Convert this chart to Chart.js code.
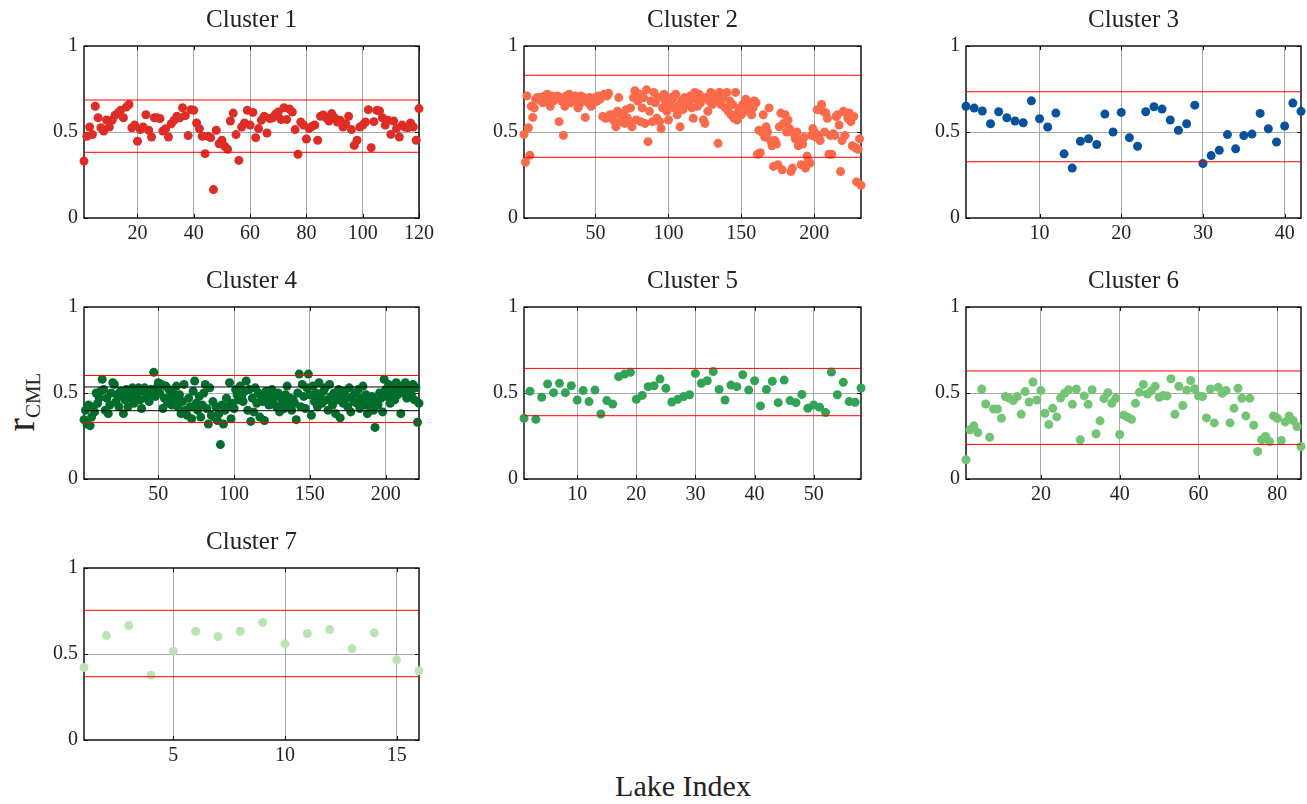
<!DOCTYPE html>
<html lang="en">
<head>
  <meta charset="UTF-8" />
  <title>r_CML by lake cluster</title>
  <script src="https://cdn.jsdelivr.net/npm/chart.js"></script>
  <style>
    body {
      margin: 0;
      width: 1307px;
      height: 804px;
      position: relative;
      overflow: hidden;
      background: #fff;
      font-family: "Liberation Serif", "DejaVu Serif", serif;
      color: #222;
    }

    canvas.panel {
      position: absolute;
    }

    #ylab {
      position: absolute;
      left: 21px;
      top: 402px;
      transform: translate(-50%, -50%) rotate(-90deg);
      font-size: 40px;
      line-height: 1;
      white-space: nowrap;
    }

    #ylab sub {
      font-size: 21px;
      vertical-align: baseline;
      position: relative;
      top: 0.3em;
    }

    #xlab {
      position: absolute;
      left: 683px;
      top: 786px;
      transform: translate(-50%, -50%);
      font-size: 30px;
      white-space: nowrap;
    }
  </style>
</head>
<body>
  <div id="ylab">r<sub>CML</sub></div>
  <div id="xlab">Lake Index</div>

  <script>
    // r_CML per lake, one array per cluster (index = lake number)
    const c1Y = [0.331,0.475,0.529,0.485,0.65,0.583,0.525,0.506,0.57,0.529,
      0.568,0.597,0.61,0.626,0.583,0.645,0.66,0.525,0.54,0.446,
      0.514,0.529,0.6,0.51,0.471,0.583,0.583,0.578,0.506,0.519,
      0.471,0.548,0.568,0.591,0.583,0.641,0.595,0.479,0.63,0.626,
      0.552,0.52,0.475,0.374,0.475,0.467,0.165,0.51,0.432,0.452,
      0.417,0.40,0.564,0.61,0.485,0.335,0.529,0.552,0.626,0.54,
      0.614,0.467,0.52,0.568,0.591,0.494,0.578,0.583,0.603,0.616,
      0.572,0.641,0.572,0.634,0.616,0.514,0.37,0.558,0.54,0.459,
      0.52,0.533,0.54,0.452,0.591,0.599,0.583,0.564,0.607,0.583,
      0.558,0.568,0.529,0.548,0.591,0.514,0.422,0.452,0.529,0.54,
      0.558,0.63,0.409,0.56,0.626,0.622,0.583,0.54,0.568,0.486,
      0.564,0.52,0.471,0.54,0.529,0.525,0.552,0.529,0.452,0.636];

    const c2Y = [0.486,0.324,0.71,0.525,0.365,0.65,0.585,0.64,0.69,0.70,
      0.69,0.70,0.68,0.67,0.71,0.69,0.72,0.70,0.65,0.71,
      0.68,0.70,0.69,0.71,0.56,0.70,0.68,0.48,0.65,0.71,
      0.69,0.72,0.67,0.70,0.68,0.71,0.70,0.64,0.66,0.71,
      0.68,0.70,0.585,0.69,0.67,0.70,0.65,0.69,0.67,0.70,
      0.68,0.71,0.69,0.70,0.59,0.72,0.58,0.71,0.725,0.60,
      0.58,0.60,0.56,0.53,0.62,0.70,0.60,0.56,0.61,0.55,
      0.63,0.58,0.55,0.64,0.53,0.70,0.74,0.57,0.68,0.72,
      0.56,0.64,0.70,0.55,0.745,0.444,0.62,0.68,0.56,0.73,
      0.67,0.58,0.70,0.56,0.52,0.64,0.72,0.68,0.62,0.57,
      0.66,0.70,0.69,0.64,0.72,0.60,0.65,0.53,0.68,0.63,
      0.70,0.66,0.69,0.67,0.71,0.64,0.58,0.73,0.69,0.65,
      0.72,0.67,0.70,0.57,0.55,0.70,0.62,0.68,0.73,0.66,
      0.70,0.68,0.72,0.434,0.73,0.66,0.70,0.72,0.64,0.73,
      0.62,0.68,0.60,0.66,0.58,0.73,0.57,0.62,0.64,0.60,
      0.66,0.62,0.69,0.68,0.63,0.67,0.60,0.64,0.68,0.67,
      0.37,0.51,0.38,0.50,0.60,0.47,0.53,0.50,0.64,0.45,
      0.42,0.30,0.45,0.43,0.31,0.53,0.61,0.28,0.55,0.60,
      0.50,0.57,0.52,0.27,0.29,0.49,0.46,0.50,0.42,0.45,
      0.31,0.43,0.47,0.29,0.36,0.33,0.32,0.48,0.52,0.50,
      0.47,0.63,0.48,0.45,0.66,0.62,0.50,0.61,0.58,0.37,
      0.48,0.37,0.49,0.48,0.59,0.60,0.54,0.27,0.45,0.62,
      0.48,0.61,0.58,0.61,0.56,0.42,0.59,0.41,0.21,0.40,
      0.46,0.19];

    const c3Y = [0.65,0.639,0.622,0.548,0.618,0.583,0.564,0.554,0.681,0.577,
      0.529,0.61,0.373,0.29,0.446,0.461,0.427,0.604,0.5,0.614,
      0.467,0.417,0.618,0.647,0.633,0.57,0.51,0.548,0.656,0.317,
      0.363,0.394,0.485,0.402,0.479,0.488,0.608,0.519,0.442,0.535,
      0.668,0.62];

    const c4Y = [0.345,0.40,0.32,0.43,0.31,0.36,0.42,0.39,0.50,0.44,
      0.47,0.51,0.58,0.52,0.40,0.47,0.38,0.43,0.50,0.56,
      0.55,0.45,0.49,0.42,0.51,0.48,0.38,0.46,0.52,0.42,
      0.50,0.47,0.53,0.44,0.52,0.49,0.53,0.46,0.41,0.51,
      0.53,0.47,0.50,0.45,0.52,0.49,0.62,0.48,0.53,0.56,
      0.50,0.55,0.41,0.47,0.54,0.44,0.52,0.48,0.43,0.50,
      0.46,0.54,0.42,0.49,0.38,0.45,0.55,0.40,0.37,0.47,
      0.42,0.35,0.51,0.57,0.44,0.40,0.48,0.36,0.43,0.50,
      0.55,0.41,0.32,0.53,0.37,0.45,0.36,0.42,0.34,0.38,
      0.20,0.43,0.32,0.40,0.47,0.42,0.56,0.35,0.44,0.41,
      0.52,0.49,0.46,0.54,0.48,0.45,0.51,0.57,0.40,0.52,
      0.335,0.47,0.39,0.53,0.44,0.50,0.36,0.48,0.45,0.34,
      0.51,0.46,0.43,0.49,0.52,0.44,0.48,0.42,0.50,0.39,
      0.47,0.45,0.41,0.49,0.54,0.43,0.47,0.40,0.46,0.44,
      0.345,0.50,0.61,0.42,0.55,0.48,0.41,0.53,0.61,0.49,
      0.37,0.54,0.45,0.50,0.42,0.56,0.47,0.44,0.51,0.53,
      0.46,0.40,0.55,0.48,0.43,0.50,0.38,0.46,0.52,0.355,
      0.49,0.44,0.51,0.47,0.42,0.53,0.39,0.48,0.45,0.50,
      0.44,0.52,0.41,0.47,0.54,0.43,0.49,0.38,0.46,0.42,
      0.48,0.40,0.30,0.45,0.43,0.50,0.47,0.39,0.58,0.52,
      0.48,0.55,0.44,0.50,0.53,0.46,0.56,0.49,0.52,0.38,
      0.54,0.50,0.56,0.47,0.53,0.51,0.49,0.55,0.46,0.53,
      0.33,0.44];

    const c5Y = [0.353,0.51,0.347,0.475,0.552,0.502,0.556,0.502,0.542,0.459,
      0.514,0.45,0.517,0.378,0.456,0.436,0.595,0.61,0.62,0.463,
      0.486,0.537,0.542,0.581,0.527,0.448,0.463,0.479,0.49,0.614,
      0.556,0.571,0.625,0.521,0.459,0.546,0.537,0.606,0.517,0.571,
      0.425,0.521,0.568,0.444,0.575,0.456,0.444,0.492,0.411,0.43,
      0.417,0.386,0.622,0.49,0.562,0.45,0.446,0.529];

    const c6Y = [0.112,0.286,0.309,0.27,0.523,0.436,0.243,0.407,0.407,0.353,
      0.479,0.469,0.456,0.479,0.376,0.508,0.448,0.564,0.459,0.514,
      0.382,0.317,0.411,0.361,0.471,0.498,0.519,0.434,0.523,0.228,
      0.483,0.434,0.519,0.263,0.338,0.467,0.502,0.44,0.469,0.259,
      0.371,0.359,0.347,0.44,0.504,0.55,0.494,0.512,0.539,0.475,
      0.486,0.483,0.583,0.376,0.539,0.427,0.517,0.573,0.525,0.483,
      0.479,0.355,0.523,0.326,0.533,0.498,0.514,0.326,0.411,0.527,
      0.469,0.367,0.469,0.313,0.16,0.228,0.247,0.218,0.367,0.353,
      0.224,0.332,0.367,0.34,0.305,0.189];

    const c7Y = [0.422,0.607,0.665,0.377,0.516,0.632,0.602,0.632,0.683,0.559,
      0.619,0.642,0.53,0.623,0.466,0.402];

    // bounds (red) and the extra pair of black levels in cluster 4
    const c1Red = [0.686, 0.382];
    const c2Red = [0.83, 0.353];
    const c3Red = [0.734, 0.327];
    const c4Red = [0.602, 0.329];
    const c4Black = [0.535, 0.397];
    const c5Red = [0.643, 0.368];
    const c6Red = [0.628, 0.201];
    const c7Red = [0.754, 0.368];

    // axis ticks
    const yTicks = [0, 0.5, 1];
    const c1Ticks = [20, 40, 60, 80, 100, 120];
    const c2Ticks = [50, 100, 150, 200];
    const c3Ticks = [10, 20, 30, 40];
    const c4Ticks = [50, 100, 150, 200];
    const c5Ticks = [10, 20, 30, 40, 50];
    const c6Ticks = [20, 40, 60, 80];
    const c7Ticks = [5, 10, 15];

    const panels = [
      { title: "Cluster 1", y: c1Y, red: c1Red, black: [], ticks: c1Ticks, xMax: 120, color: "#de2d26", left: 84,  top: 46,  w: 335 },
      { title: "Cluster 2", y: c2Y, red: c2Red, black: [], ticks: c2Ticks, xMax: 232, color: "#fb6a4a", left: 524, top: 46,  w: 337 },
      { title: "Cluster 3", y: c3Y, red: c3Red, black: [], ticks: c3Ticks, xMax: 42,  color: "#08519c", left: 966, top: 46,  w: 335 },
      { title: "Cluster 4", y: c4Y, red: c4Red, black: c4Black, ticks: c4Ticks, xMax: 222, color: "#006d2c", left: 84,  top: 307, w: 335 },
      { title: "Cluster 5", y: c5Y, red: c5Red, black: [], ticks: c5Ticks, xMax: 58,  color: "#31a354", left: 524, top: 307, w: 337 },
      { title: "Cluster 6", y: c6Y, red: c6Red, black: [], ticks: c6Ticks, xMax: 86,  color: "#74c476", left: 966, top: 307, w: 335 },
      { title: "Cluster 7", y: c7Y, red: c7Red, black: [], ticks: c7Ticks, xMax: 16,  color: "#bae4b3", left: 84,  top: 568, w: 335 }
    ];

    const SERIF = "'Liberation Serif', 'DejaVu Serif', serif";
    const PLOT_H = 172;
    const AXIS_W = 60, AXIS_H = 35, TITLE_H = 42, PAD_R = 20;
    const GRID = "#a8a8a8";

    // box around the axes plus short inward tick marks, MATLAB style
    const frame = {
      id: "frame",
      beforeDatasetsDraw(chart) {
        const { ctx, chartArea: a, scales } = chart;
        ctx.save();
        ctx.strokeStyle = "#000";
        ctx.lineWidth = 1.4;
        ctx.strokeRect(a.left, a.top, a.right - a.left, a.bottom - a.top);
        ctx.lineWidth = 1;
        ctx.beginPath();
        scales.x.ticks.forEach(t => {
          const px = Math.round(scales.x.getPixelForValue(t.value)) + 0.5;
          ctx.moveTo(px, a.bottom); ctx.lineTo(px, a.bottom - 4);
          ctx.moveTo(px, a.top); ctx.lineTo(px, a.top + 4);
        });
        scales.y.ticks.forEach(t => {
          const py = Math.round(scales.y.getPixelForValue(t.value)) + 0.5;
          ctx.moveTo(a.left, py); ctx.lineTo(a.left + 4, py);
          ctx.moveTo(a.right, py); ctx.lineTo(a.right - 4, py);
        });
        ctx.stroke();
        ctx.restore();
      },
      // panel title centred over the plot box, not the whole canvas
      afterDraw(chart, args, opts) {
        const { ctx, chartArea: a } = chart;
        ctx.save();
        ctx.fillStyle = "#222";
        ctx.font = "25px " + SERIF;
        ctx.textAlign = "center";
        ctx.textBaseline = "middle";
        ctx.fillText(opts.text, (a.left + a.right) / 2, a.top - 26);
        ctx.restore();
      }
    };

    function hline(v, color, xMax) {
      return {
        data: [{ x: 1, y: v }, { x: xMax, y: v }],
        showLine: true,
        borderColor: color,
        borderWidth: 1,
        pointRadius: 0,
        order: 0,
        clip: false
      };
    }

    panels.forEach(p => {
      const canvas = document.createElement("canvas");
      canvas.className = "panel";
      canvas.width = AXIS_W + p.w + PAD_R;
      canvas.height = TITLE_H + PLOT_H + AXIS_H;
      canvas.style.left = (p.left - AXIS_W) + "px";
      canvas.style.top = (p.top - TITLE_H) + "px";
      document.body.appendChild(canvas);

      const datasets = [
        ...p.red.map(v => hline(v, "#ff0000", p.xMax)),
        ...p.black.map(v => hline(v, "#000000", p.xMax)),
        {
          data: p.y.map((v, i) => ({ x: i + 1, y: v })),
          backgroundColor: p.color,
          borderWidth: 0,
          pointRadius: 4.5,
          pointHoverRadius: 4.5,
          order: 1,
          clip: false
        }
      ];

      new Chart(canvas, {
        type: "scatter",
        data: { datasets },
        plugins: [frame],
        options: {
          responsive: false,
          animation: false,
          devicePixelRatio: 1,
          layout: { padding: { left: 0, right: PAD_R, top: TITLE_H, bottom: 0 } },
          plugins: {
            legend: { display: false },
            tooltip: { enabled: false },
            title: { display: false },
            frame: { text: p.title }
          },
          scales: {
            x: {
              type: "linear",
              min: 1,
              max: p.xMax,
              afterBuildTicks: s => { s.ticks = p.ticks.map(v => ({ value: v })); },
              afterFit: s => { s.height = AXIS_H; },
              grid: { color: GRID, lineWidth: 1, drawTicks: false },
              border: { display: false },
              ticks: {
                padding: 4,
                color: "#222",
                maxRotation: 0,
                autoSkip: false,
                font: { family: SERIF, size: 20 },
                callback: v => String(v)
              }
            },
            y: {
              type: "linear",
              min: 0,
              max: 1,
              afterBuildTicks: s => { s.ticks = yTicks.map(v => ({ value: v })); },
              afterFit: s => { s.width = AXIS_W; },
              grid: {
                color: c => (c.tick && c.tick.value === 0.5 ? GRID : "rgba(0,0,0,0)"),
                lineWidth: 1,
                drawTicks: false
              },
              border: { display: false },
              ticks: {
                padding: 6,
                color: "#222",
                font: { family: SERIF, size: 20 },
                callback: v => String(v)
              }
            }
          }
        }
      });
    });
  </script>
</body>
</html>
